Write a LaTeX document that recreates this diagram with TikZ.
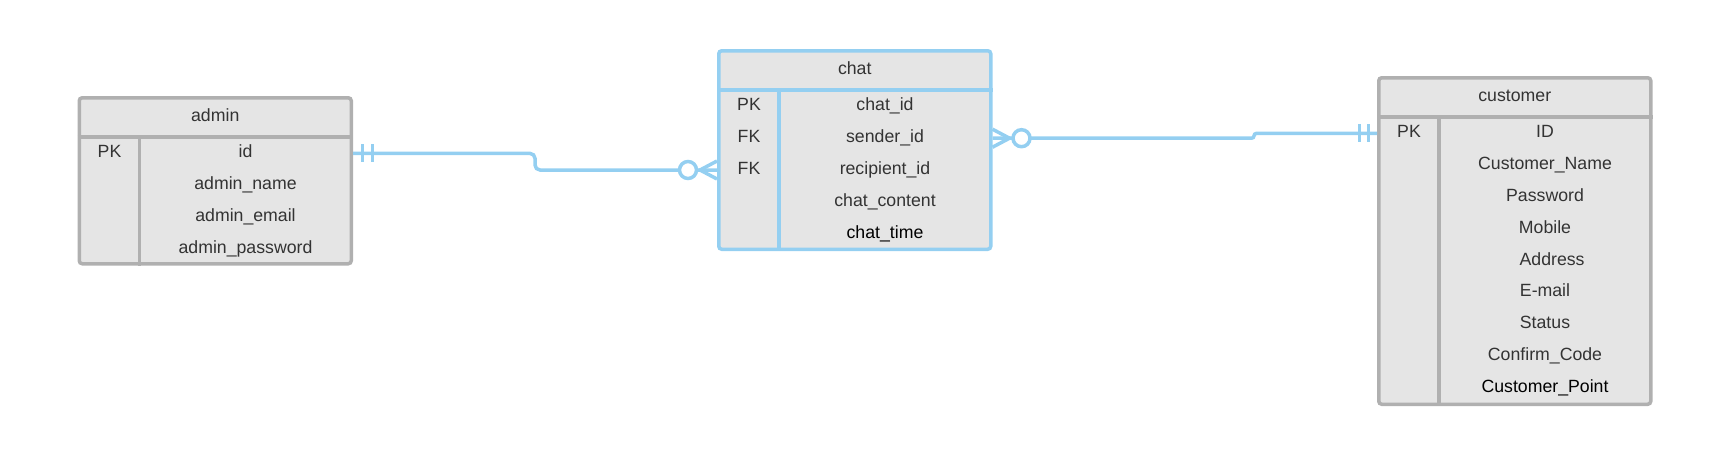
\documentclass[tikz,border=0pt]{standalone}
\usepackage{fontspec}
\setmainfont{Liberation Sans}
\usetikzlibrary{calc}
\definecolor{boxgrey}{RGB}{176,176,176}
\definecolor{boxfill}{RGB}{229,229,229}
\definecolor{relblue}{RGB}{148,207,241}
\definecolor{txtgrey}{RGB}{51,51,51}

\begin{document}
\begin{tikzpicture}[x=1pt,y=-1pt,
    ertable/.style={draw=#1,fill=boxfill,line width=3.5pt,rounded corners=3pt,inner sep=0pt,minimum width=272pt,anchor=north west},
    divider/.style={draw=#1,line width=3.5pt},
    cell/.style={inner sep=0pt,text height=13pt,text depth=4pt,text=txtgrey,font=\fontsize{17.7}{20}\selectfont},
    rel/.style={draw=relblue,line width=3.5pt},
    tick/.style={draw=relblue,line width=3pt}]
    \useasboundingbox (0,0) rectangle (1718,459);

    % admin
    \node[ertable=boxgrey,minimum height=166pt] (admin) at (77.5,96) {};
    \draw[divider=boxgrey] ([yshift=-41pt]admin.north west) -- ([yshift=-41pt]admin.north east);
    \draw[divider=boxgrey] ([xshift=62pt,yshift=-41pt]admin.north west) -- ([xshift=62pt]admin.south west);
    \node[cell] (admin-t) at ($(admin.north)+(0,21)$) {admin};
    \foreach \k/\f [count=\i] in {PK/id,/admin\_name,/admin\_email,/admin\_password} {
        \node[cell] (admin-k\i) at ($(admin.north west)+(32,41+31.8*\i-15.4)$) {\k};
        \node[cell] (admin-f\i) at ($(admin.north west)+(168,41+31.8*\i-15.4)$) {\f};
    }

    % chat
    \node[ertable=relblue,minimum height=198.5pt] (chat) at (717,49) {};
    \draw[divider=relblue] ([yshift=-41pt]chat.north west) -- ([yshift=-41pt]chat.north east);
    \draw[divider=relblue] ([xshift=62pt,yshift=-41pt]chat.north west) -- ([xshift=62pt]chat.south west);
    \node[cell] (chat-t) at ($(chat.north)+(0,21)$) {chat};
    \foreach \k/\f [count=\i] in {PK/chat\_id,FK/sender\_id,FK/recipient\_id,/chat\_content,/\textcolor{black}{chat\_time}} {
        \node[cell] (chat-k\i) at ($(chat.north west)+(32,41+31.8*\i-15.4)$) {\k};
        \node[cell] (chat-f\i) at ($(chat.north west)+(168,41+31.8*\i-15.4)$) {\f};
    }

    % customer
    \node[ertable=boxgrey,minimum height=326.5pt] (customer) at (1377,76) {};
    \draw[divider=boxgrey] ([yshift=-41pt]customer.north west) -- ([yshift=-41pt]customer.north east);
    \draw[divider=boxgrey] ([xshift=62pt,yshift=-41pt]customer.north west) -- ([xshift=62pt]customer.south west);
    \node[cell] (customer-t) at ($(customer.north)+(0,21)$) {customer};
    \foreach \k/\f [count=\i] in {PK/ID,/Customer\_Name,/Password,/Mobile,/\hspace{0.8em}Address,/E-mail,/Status,/Confirm\_Code,/\textcolor{black}{Customer\_Point}} {
        \node[cell] (customer-k\i) at ($(customer.north west)+(32,41+31.8*\i-15.4)$) {\k};
        \node[cell] (customer-f\i) at ($(customer.north west)+(168,41+31.8*\i-15.4)$) {\f};
    }

    % admin -- chat (one to many)
    \coordinate (a1) at (admin.east |- admin-f1);
    \coordinate (c3) at (chat.west |- chat-f3);
    \coordinate (mid1) at ($(a1)!0.5!(c3)$);
    \draw[rel,rounded corners=5pt] (a1) -- (mid1 |- a1) -- (mid1 |- c3) -- (c3);
    \draw[tick] ($(a1)+(9,-9)$) -- ($(a1)+(9,9)$);
    \draw[tick] ($(a1)+(19,-9)$) -- ($(a1)+(19,9)$);
    \draw[rel] ($(c3)+(0,-9)$) -- ($(c3)+(-17,0)$) -- ($(c3)+(0,9)$);
    \draw[rel,fill=white] ($(c3)+(-29,0)$) circle[radius=8.5];

    % chat -- customer (many to one)
    \coordinate (c2) at (chat.east |- chat-f2);
    \coordinate (u1) at (customer.west |- customer-f1);
    \coordinate (bend2) at (1254,0);
    \draw[rel,rounded corners=2.4pt] (c2) -- (bend2 |- c2) -- (bend2 |- u1) -- (u1);
    \draw[rel] ($(c2)+(0,-9)$) -- ($(c2)+(17,0)$) -- ($(c2)+(0,9)$);
    \draw[rel,fill=white] ($(c2)+(29,0)$) circle[radius=8.5];
    \draw[tick] ($(u1)+(-9,-9)$) -- ($(u1)+(-9,9)$);
    \draw[tick] ($(u1)+(-18,-9)$) -- ($(u1)+(-18,9)$);
\end{tikzpicture}
\end{document}
